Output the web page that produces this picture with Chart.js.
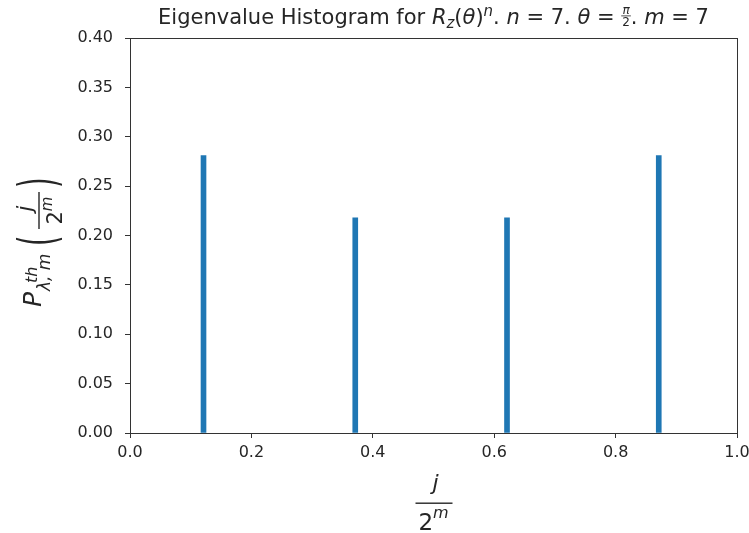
<!DOCTYPE html>
<html>
<head>
<meta charset="utf-8">
<script src="https://cdn.jsdelivr.net/npm/chart.js@4.4.0/dist/chart.umd.min.js"></script>
<style>
  body { margin: 0; background: #fff; }
  canvas { display: block; }
</style>
</head>
<body>
<canvas id="myChart" width="749" height="533"></canvas>
<script>
// eigenvalue bins (j / 2^m) and the probability in each
const binCenters = [0.1211, 0.3711, 0.6211, 0.8711];
const probabilities = [0.281, 0.218, 0.218, 0.281];
const xTicks = [0.0, 0.2, 0.4, 0.6, 0.8, 1.0];
const yTicks = [0.00, 0.05, 0.10, 0.15, 0.20, 0.25, 0.30, 0.35, 0.40];

const FONT = '"DejaVu Sans", sans-serif';
const TEXT = '#262626';

// draws the mathtext-like labels (title, axis labels) and the box
const mathLabels = {
    id: 'mathLabels',
    afterDraw(chart) {
        const ctx = chart.ctx;
        const area = chart.chartArea;
        ctx.save();

        // frame (all four spines)
        ctx.strokeStyle = '#333';
        ctx.lineWidth = 1;
        ctx.strokeRect(Math.round(area.left) + 0.5, Math.round(area.top) + 0.5,
            Math.round(area.right - area.left), Math.round(area.bottom - area.top));

        ctx.fillStyle = TEXT;
        ctx.textBaseline = 'alphabetic';
        ctx.textAlign = 'left';

        // ---- title ----
        const N = `21px ${FONT}`, I = `italic 21px ${FONT}`, IS = `italic 15px ${FONT}`, S = `12px ${FONT}`, IF = `italic 12px ${FONT}`;
        const runs = [
            { t: 'Eigenvalue Histogram for ', f: N },
            { t: 'R', f: I },
            { t: 'z', f: IS, dy: 4 },
            { t: '(', f: N },
            { t: 'θ', f: I },
            { t: ')', f: N },
            { t: 'n', f: IS, dy: -8 },
            { t: '. ', f: N },
            { t: 'n', f: I },
            { t: ' = 7. ', f: N },
            { t: 'θ', f: I },
            { t: ' = ', f: N },
            { frac: ['π', '2'] },
            { t: '. ', f: N },
            { t: 'm', f: I },
            { t: ' = 7', f: N },
        ];
        let total = 0;
        runs.forEach(r => {
            if (r.frac) {
                ctx.font = IF;
                r.w = Math.max(ctx.measureText(r.frac[0]).width, ctx.measureText(r.frac[1]).width) + 2;
            } else {
                ctx.font = r.f;
                r.w = ctx.measureText(r.t).width;
            }
            total += r.w;
        });
        let x = (area.left + area.right) / 2 - total / 2;
        const base = 24;
        runs.forEach(r => {
            if (r.frac) {
                ctx.font = IF;
                ctx.textAlign = 'center';
                ctx.fillText(r.frac[0], x + r.w / 2, base - 10);
                ctx.font = S;
                ctx.fillText(r.frac[1], x + r.w / 2, base + 2);
                ctx.fillRect(x, base - 8.5, r.w, 0.8);
                ctx.textAlign = 'left';
            } else {
                ctx.font = r.f;
                ctx.fillText(r.t, x, base + (r.dy || 0));
            }
            x += r.w;
        });

        // ---- x label: j / 2^m ----
        const cx = (area.left + area.right) / 2;
        ctx.textAlign = 'center';
        ctx.font = `italic 22px ${FONT}`;
        ctx.fillText('j', cx + 2, 490);
        ctx.fillRect(cx - 18, 502.5, 37, 1.4);
        ctx.font = `23px ${FONT}`;
        const w2 = ctx.measureText('2').width;
        ctx.font = `italic 16px ${FONT}`;
        const wm = ctx.measureText('m').width;
        const start = cx - (w2 + wm) / 2;
        ctx.textAlign = 'left';
        ctx.font = `23px ${FONT}`;
        ctx.fillText('2', start, 530);
        ctx.font = `italic 16px ${FONT}`;
        ctx.fillText('m', start + w2, 518);

        // ---- y label: P^th_{λ,m}(j / 2^m), rotated ----
        // local frame: x runs up the page from the bottom of the label, y>0 is to the right
        ctx.translate(41, 307);
        ctx.rotate(-Math.PI / 2);
        ctx.font = `italic 25px ${FONT}`;
        ctx.fillText('P', 0, 0);
        ctx.font = `italic 16px ${FONT}`;
        ctx.fillText('th', 24, -4);
        ctx.font = `italic 17px ${FONT}`;
        ctx.fillText('λ, m', 16, 9);
        const paren = (ch, px) => {
            ctx.save();
            ctx.translate(px, 14);
            ctx.scale(1, 1.9);
            ctx.font = `27px ${FONT}`;
            ctx.fillText(ch, 0, 0);
            ctx.restore();
        };
        paren('(', 61);
        const fx = 78, fw = 37;
        ctx.textAlign = 'center';
        ctx.font = `italic 21px ${FONT}`;
        ctx.fillText('j', fx + fw / 2 + 2, -9);
        ctx.fillRect(fx, -2.7, fw, 1.4);
        ctx.textAlign = 'left';
        ctx.font = `21px ${FONT}`;
        const w2y = ctx.measureText('2').width;
        ctx.font = `italic 15px ${FONT}`;
        const wmy = ctx.measureText('m').width;
        const sy = fx + fw / 2 - (w2y + wmy) / 2;
        ctx.font = `21px ${FONT}`;
        ctx.fillText('2', sy, 21);
        ctx.font = `italic 15px ${FONT}`;
        ctx.fillText('m', sy + w2y, 11);
        paren(')', 119);

        ctx.restore();
    }
};

new Chart(document.getElementById('myChart').getContext('2d'), {
    type: 'bar',
    data: {
        datasets: [{
            data: binCenters.map((x, i) => ({ x: x, y: probabilities[i] })),
            backgroundColor: '#1f77b4',
            borderWidth: 0,
            barThickness: 5,
        }]
    },
    options: {
        responsive: false,
        animation: false,
        devicePixelRatio: 1,
        layout: { padding: { top: 38, right: 12, left: 0, bottom: 0 } },
        plugins: {
            legend: { display: false },
            title: { display: false },
            tooltip: { enabled: false },
        },
        scales: {
            x: {
                type: 'linear',
                min: 0,
                max: 1,
                offset: false,
                afterBuildTicks: scale => { scale.ticks = xTicks.map(v => ({ value: v })); },
                afterFit: scale => {
                    scale.height = 100;
                    // let the "1.0" label run into the right margin
                    scale.paddingRight = 0;
                    scale.paddingLeft = 0;
                },
                grid: { display: true, drawOnChartArea: false, drawTicks: true, tickLength: 5, tickColor: '#333', offset: false },
                border: { display: false },
                ticks: {
                    color: TEXT,
                    font: { family: 'DejaVu Sans', size: 16 },
                    padding: 5,
                    maxRotation: 0,
                    callback: v => Number(v).toFixed(1),
                },
            },
            y: {
                min: 0,
                max: 0.4,
                afterBuildTicks: scale => { scale.ticks = yTicks.map(v => ({ value: v })); },
                afterFit: scale => { scale.width = 130; },
                grid: { display: true, drawOnChartArea: false, drawTicks: true, tickLength: 5, tickColor: '#333' },
                border: { display: false },
                ticks: {
                    color: TEXT,
                    font: { family: 'DejaVu Sans', size: 16 },
                    padding: 12,
                    callback: v => Number(v).toFixed(2),
                },
            },
        },
    },
    plugins: [mathLabels],
});
</script>
</body>
</html>
